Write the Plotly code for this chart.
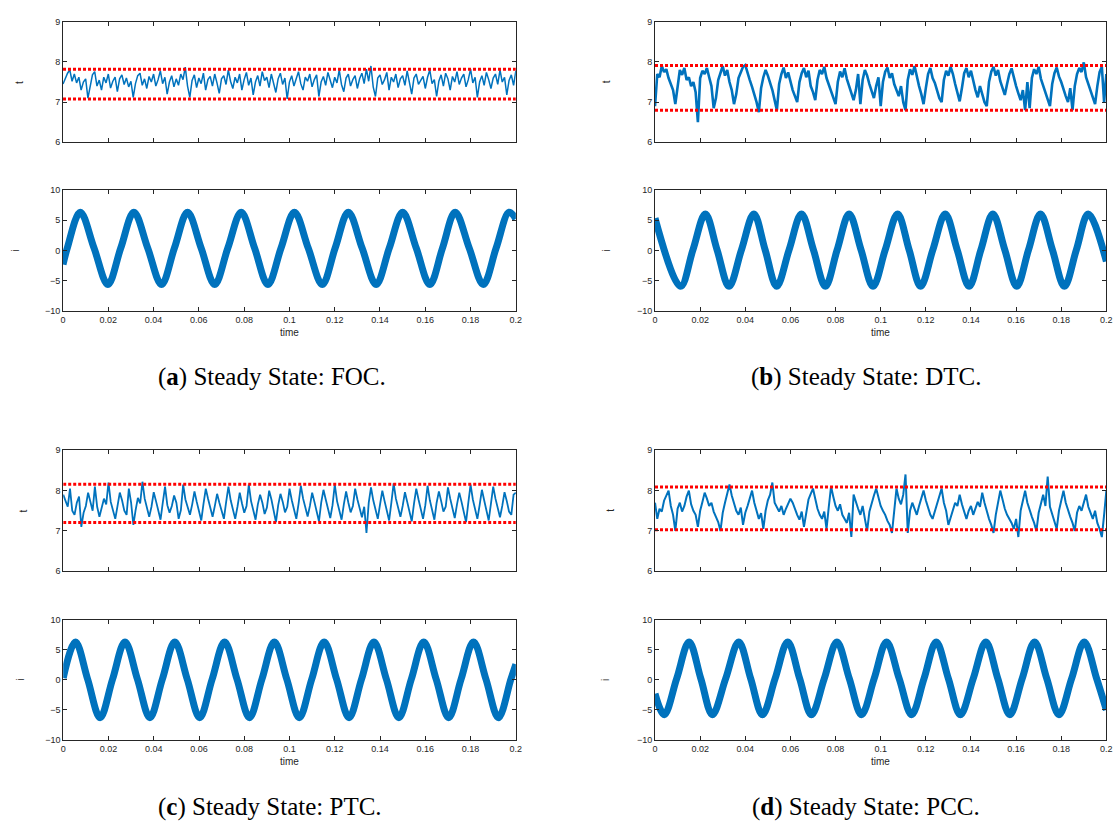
import plotly.graph_objects as go

W, H = 1120, 824

# ---------------- data ----------------
t_ms = [i / 1000 for i in range(201)]  # time axis of torque records (1 ms step)

torque_foc = [
    7.45, 7.58, 7.72, 7.80, 7.52, 7.70, 7.48, 7.62, 7.30, 7.50,
    7.58, 7.10, 7.42, 7.68, 7.76, 7.40, 7.55, 7.30, 7.62, 7.48,
    7.70, 7.35, 7.52, 7.62, 7.26, 7.58, 7.68, 7.44, 7.60, 7.38,
    7.52, 7.12, 7.46, 7.66, 7.72, 7.42, 7.58, 7.34, 7.64, 7.50,
    7.70, 7.40, 7.56, 7.78, 7.46, 7.62, 7.20, 7.50, 7.66, 7.38,
    7.58, 7.42, 7.70, 7.56, 7.87, 7.40, 7.12, 7.54, 7.68, 7.36,
    7.60, 7.46, 7.72, 7.30, 7.56, 7.64, 7.40, 7.70, 7.48, 7.22,
    7.58, 7.66, 7.44, 7.80, 7.52, 7.34, 7.62, 7.48, 7.70, 7.30,
    7.56, 7.74, 7.42, 7.60, 7.18, 7.50, 7.66, 7.40, 7.76, 7.54,
    7.62, 7.36, 7.70, 7.48, 7.24, 7.58, 7.72, 7.44, 7.60, 7.08,
    7.50, 7.66, 7.40, 7.58, 7.76, 7.46, 7.30, 7.62, 7.52, 7.70,
    7.38, 7.56, 7.68, 7.14, 7.50, 7.64, 7.42, 7.74, 7.56, 7.36,
    7.62, 7.48, 7.80, 7.44, 7.26, 7.60, 7.70, 7.40, 7.56, 7.66,
    7.34, 7.58, 7.72, 7.46, 7.82, 7.52, 7.90, 7.38, 7.14, 7.60,
    7.68, 7.44, 7.56, 7.74, 7.30, 7.62, 7.50, 7.70, 7.36, 7.58,
    7.66, 7.42, 7.78, 7.48, 7.20, 7.60, 7.70, 7.44, 7.56, 7.64,
    7.34, 7.62, 7.80, 7.46, 7.56, 7.14, 7.52, 7.68, 7.40, 7.72,
    7.58, 7.30, 7.64, 7.50, 7.76, 7.44, 7.60, 7.70, 7.38, 7.56,
    7.82, 7.48, 7.62, 7.12, 7.50, 7.66, 7.42, 7.74, 7.56, 7.34,
    7.60, 7.70, 7.44, 7.80, 7.50, 7.62, 7.18, 7.54, 7.68, 7.42,
    7.78,
]

torque_dtc = [
    6.90, 7.70, 7.62, 7.90, 7.75, 7.82, 7.60, 7.45, 7.30, 6.95,
    7.40, 7.80, 7.68, 7.85, 7.55, 7.62, 7.40, 7.50, 7.25, 6.50,
    7.60, 7.78, 7.70, 7.85, 7.62, 7.40, 6.85, 7.10, 7.55, 7.72,
    7.90, 7.66, 7.80, 7.50, 7.30, 6.95, 7.20, 7.60, 7.75, 7.88,
    7.92, 7.70, 7.55, 7.38, 7.20, 7.00, 6.75, 7.35, 7.62, 7.80,
    7.66, 7.50, 7.30, 7.05, 6.80, 7.45, 7.70, 7.86, 7.60, 7.74,
    7.48, 7.30, 7.15, 7.00, 7.50, 7.72, 7.85, 7.62, 7.78, 7.40,
    7.25, 7.05, 7.55, 7.80, 7.70, 7.88, 7.60, 7.45, 7.30, 7.10,
    6.95, 7.50, 7.76, 7.62, 7.84, 7.58, 7.40, 7.20, 7.05, 7.30,
    7.70, 6.95, 7.55, 7.80, 7.66, 7.45, 7.28, 7.10, 7.40, 7.62,
    6.90, 7.50, 7.76, 7.86, 7.60, 7.72, 7.45, 7.30, 7.15, 7.40,
    7.00, 6.80, 7.55, 7.82, 7.68, 7.90, 7.62, 7.40, 7.20, 6.95,
    7.35, 7.70, 7.85, 7.60, 7.48, 7.30, 7.10, 7.00, 7.55, 7.78,
    7.66, 7.88, 7.70, 7.45, 7.25, 7.02, 7.35, 7.72, 7.85, 7.62,
    7.78, 7.50, 7.30, 7.12, 7.40, 7.20, 7.00, 6.90, 7.50, 7.76,
    7.88, 7.66, 7.80, 7.52, 7.35, 7.18, 7.45, 7.70, 7.84, 7.60,
    7.40, 7.22, 7.05, 7.30, 6.80, 7.50, 6.85, 7.60, 7.82, 7.70,
    7.88, 7.58, 7.40, 7.20, 7.05, 6.90, 7.45, 7.72, 7.86, 7.64,
    7.50, 7.30, 7.15, 7.00, 7.35, 6.80, 7.40, 7.70, 7.85, 7.75,
    7.99, 7.62, 7.45, 7.30, 7.10, 6.95, 7.40, 7.75, 7.88, 7.00,
    7.70,
]

torque_ptc = [
    7.90, 7.72, 7.60, 8.05, 7.50, 7.40, 7.70, 7.85, 7.10, 7.45,
    7.62, 7.95, 7.70, 7.50, 8.10, 7.60, 7.35, 7.55, 7.80, 7.66,
    8.20, 7.72, 7.48, 7.30, 7.62, 7.95, 7.76, 7.50, 7.40, 8.05,
    7.70, 7.15, 7.52, 7.82, 7.68, 8.22, 7.80, 7.55, 7.35, 7.60,
    7.96, 7.74, 7.50, 7.28, 7.70, 8.10, 7.64, 7.45, 7.62, 7.88,
    7.70, 7.30, 7.52, 8.15, 7.78, 7.58, 7.40, 7.66, 7.98, 7.72,
    7.50, 7.26, 7.68, 8.05, 7.80, 7.55, 7.35, 7.62, 7.92, 7.70,
    7.48, 7.30, 7.72, 8.10, 7.76, 7.56, 7.30, 7.60, 7.95, 7.68,
    7.45, 7.62, 8.15, 7.74, 7.52, 7.28, 7.66, 7.90, 7.70, 7.42,
    7.58, 8.00, 7.78, 7.50, 7.22, 7.64, 7.92, 7.72, 7.46, 7.60,
    8.05, 7.76, 7.52, 7.30, 7.68, 8.12, 7.80, 7.55, 7.36, 7.62,
    7.95, 7.72, 7.48, 7.24, 7.70, 8.02, 7.78, 7.56, 7.32, 7.64,
    8.15, 7.74, 7.50, 7.28, 7.66, 7.98, 7.70, 7.46, 7.62, 8.05,
    7.78, 7.54, 7.34, 7.60, 6.95, 7.70, 8.08, 7.76, 7.50, 7.30,
    7.66, 8.00, 7.74, 7.48, 7.26, 7.70, 8.18, 7.80, 7.55, 7.35,
    7.62, 7.96, 7.72, 7.46, 7.24, 7.68, 8.05, 7.78, 7.52, 7.30,
    7.64, 8.12, 7.76, 7.50, 7.28, 7.70, 7.98, 7.74, 7.48, 7.60,
    8.08, 7.80, 7.54, 7.32, 7.66, 7.95, 7.72, 7.46, 7.22, 7.70,
    8.15, 7.78, 7.55, 7.30, 7.64, 8.02, 7.76, 7.50, 7.26, 7.68,
    8.10, 7.80, 7.56, 7.34, 7.62, 7.96, 7.74, 7.48, 7.40, 7.90,
    7.95,
]

torque_pcc = [
    7.70, 7.30, 7.55, 7.48, 7.75, 7.90, 8.00, 7.62, 7.40, 7.00,
    7.55, 7.70, 7.48, 7.62, 7.85, 8.00, 7.66, 7.50, 7.40, 7.10,
    7.50, 7.72, 7.95, 7.80, 7.62, 7.70, 7.48, 7.35, 7.22, 7.00,
    7.45, 7.70, 7.95, 8.15, 7.88, 7.66, 7.50, 7.40, 7.58, 7.15,
    7.45, 7.62, 7.80, 8.00, 7.70, 7.52, 7.30, 7.44, 7.05, 7.50,
    7.76, 7.90, 8.20, 7.70, 7.60, 7.48, 7.62, 7.40, 7.55, 7.66,
    7.80, 7.70, 7.52, 7.40, 7.28, 7.48, 7.10, 7.50, 7.78, 7.92,
    8.05, 7.80, 7.55, 7.40, 7.30, 7.48, 7.05, 7.60, 8.10, 7.85,
    7.62, 7.50, 7.66, 7.40, 7.30, 7.20, 7.45, 6.85, 7.90, 7.70,
    7.55, 7.40, 7.62, 7.30, 7.00, 7.48, 7.72, 7.88, 8.05, 7.80,
    7.62, 7.50, 7.40, 7.25, 7.15, 6.95, 7.60, 8.05, 7.80, 7.66,
    7.90, 8.40, 6.95, 7.50, 7.70, 7.55, 7.40, 7.62, 7.82, 8.00,
    7.76, 7.55, 7.40, 7.30, 7.50, 7.68, 7.85, 8.05, 7.70, 7.50,
    7.15, 7.35, 7.52, 7.70, 7.62, 7.90, 7.66, 7.45, 7.30, 7.50,
    7.62, 7.40, 7.55, 7.72, 7.60, 7.95, 7.70, 7.48, 7.30, 7.15,
    6.95, 7.40, 7.66, 8.00, 7.78, 7.55, 7.40, 7.30, 7.20, 7.05,
    7.30, 6.85, 7.50, 7.75, 8.00, 7.70, 7.50, 7.35, 7.20, 7.00,
    7.45, 7.70, 7.90, 7.62, 8.35, 7.60, 7.40, 7.25, 7.05, 7.50,
    7.75, 8.00, 7.70, 7.50, 7.35, 7.20, 7.00, 7.45, 7.62, 7.50,
    7.70, 7.90, 7.60, 7.45, 7.30, 7.50, 7.20, 7.05, 6.85, 7.40,
    8.00,
]

# torque band limits (red dotted lines)
band_foc = [7.08, 7.82]
band_dtc = [6.80, 7.91]
band_ptc = [7.21, 8.16]
band_pcc = [7.03, 8.09]

# current: read extrema and mid-level crossings
cur_foc_t = [0, 0.0019, 0.0076, 0.0137, 0.0198, 0.0255, 0.0313, 0.0374, 0.0435,
             0.0492, 0.055, 0.061, 0.067, 0.0728, 0.0787, 0.0846, 0.0905, 0.0963,
             0.1022, 0.1083, 0.1145, 0.1202, 0.126, 0.1321, 0.1383, 0.1441, 0.150,
             0.156, 0.162, 0.1676, 0.1732, 0.1794, 0.1856, 0.1913, 0.197, 0.2]
cur_foc_v = [-2.3, 0.4, 6.3, 0.4, -5.6, 0.4, 6.3, 0.4, -5.6,
             0.4, 6.3, 0.4, -5.6, 0.4, 6.3, 0.4, -5.6, 0.4,
             6.3, 0.4, -5.6, 0.4, 6.3, 0.4, -5.6, 0.4, 6.3,
             0.4, -5.6, 0.4, 6.3, 0.4, -5.6, 0.4, 6.3, 5.2]

cur_dtc_t = [0, 0.0113, 0.0168, 0.0223, 0.0275, 0.0328, 0.0383, 0.0438, 0.0488,
             0.0539, 0.0594, 0.0649, 0.0702, 0.0755, 0.0807, 0.086, 0.0913, 0.0966,
             0.102, 0.1075, 0.1126, 0.1177, 0.1231, 0.1286, 0.1339, 0.1392, 0.1444,
             0.1497, 0.155, 0.1603, 0.1655, 0.1708, 0.1761, 0.1814, 0.1867, 0.192, 0.2]
cur_dtc_v = [5.3, -5.9, 0.1, 6.0, 0.1, -5.9, 0.1, 6.0, 0.1,
             -5.9, 0.1, 6.0, 0.1, -5.9, 0.1, 6.0, 0.1, -5.9,
             0.1, 6.0, 0.1, -5.9, 0.1, 6.0, 0.1, -5.9, 0.1,
             6.0, 0.1, -5.9, 0.1, 6.0, 0.1, -5.9, 0.1, 6.0, -1.8]

cur_ptc_t = [0, 0.0054, 0.0108, 0.0163, 0.0218, 0.0273, 0.0328, 0.0383, 0.0438,
             0.0493, 0.0548, 0.0603, 0.0658, 0.0713, 0.0768, 0.0823, 0.0878, 0.0933,
             0.0988, 0.1043, 0.1098, 0.1153, 0.1208, 0.1263, 0.1318, 0.1373, 0.1428,
             0.1483, 0.1538, 0.1593, 0.1648, 0.1703, 0.1758, 0.1813, 0.1868, 0.1923,
             0.1978, 0.2]
cur_ptc_v = [0.3, 6.3, 0.1, -6.3, 0.1, 6.3, 0.1, -6.3, 0.1,
             6.3, 0.1, -6.3, 0.1, 6.3, 0.1, -6.3, 0.1, 6.3,
             0.1, -6.3, 0.1, 6.3, 0.1, -6.3, 0.1, 6.3, 0.1,
             -6.3, 0.1, 6.3, 0.1, -6.3, 0.1, 6.3, 0.1, -6.3,
             0.1, 2.6]

cur_pcc_t = [0, 0.0041, 0.0096, 0.0151, 0.0203, 0.0254, 0.0313, 0.0371, 0.0424,
             0.0476, 0.0532, 0.0588, 0.0641, 0.0693, 0.075, 0.0806, 0.0861, 0.0915,
             0.0971, 0.1026, 0.1082, 0.1137, 0.1192, 0.1246, 0.13, 0.1353, 0.141,
             0.1466, 0.1519, 0.1572, 0.1627, 0.1682, 0.1736, 0.179, 0.1846, 0.1902,
             0.1957, 0.2]
cur_pcc_v = [-2.3, -5.8, 0.2, 6.3, 0.2, -5.8, 0.2, 6.3, 0.2,
             -5.8, 0.2, 6.3, 0.2, -5.8, 0.2, 6.3, 0.2, -5.8,
             0.2, 6.3, 0.2, -5.8, 0.2, 6.3, 0.2, -5.8, 0.2,
             6.3, 0.2, -5.8, 0.2, 6.3, 0.2, -5.8, 0.2, 6.3,
             0.2, -5.0]

x_ticks = [0, 0.02, 0.04, 0.06, 0.08, 0.1, 0.12, 0.14, 0.16, 0.18, 0.2]
x_tick_text = ["0", "0.02", "0.04", "0.06", "0.08", "0.1", "0.12", "0.14", "0.16", "0.18", "0.2"]
t_ticks = [6, 7, 8, 9]
i_ticks = [-10, -5, 0, 5, 10]

captions = [
    "(<b>a</b>) Steady State: FOC.",
    "(<b>b</b>) Steady State: DTC.",
    "(<b>c</b>) Steady State: PTC.",
    "(<b>d</b>) Steady State: PCC.",
]

# ---------------- layout geometry (pixels) ----------------
panels = [
    # (x0, x1, top_y0, top_y1, bot_y0, bot_y1)
    (60.5, 517, 17, 139, 187, 310),
    (657.3, 1112.3, 17, 139, 187, 310),
    (60.7, 517, 450.7, 573.3, 622.3, 744),
    (657.3, 1112.3, 450.7, 573.3, 622.3, 744),
]
caption_pos = [(271, 377), (870, 377), (269, 812), (870, 812)]
t_label_x = [16, 608, 21, 613]
i_label_x = [13, 608, 18, 608]

BLUE = "#0072BD"
AX = "#262626"

torques = [torque_foc, torque_dtc, torque_ptc, torque_pcc]
bands = [band_foc, band_dtc, band_ptc, band_pcc]
cur_t = [cur_foc_t, cur_dtc_t, cur_ptc_t, cur_pcc_t]
cur_v = [cur_foc_v, cur_dtc_v, cur_ptc_v, cur_pcc_v]
tq_width = [1.5, 2.6, 1.8, 2.0]

fig = go.Figure()
layout = {}
annotations = []

def px_x(p):
    return p / W

def px_y(p):
    return 1 - p / H

def ann(text, x, y, size, family, color=AX, angle=0):
    return dict(text=text, x=px_x(x), y=px_y(y), xref="paper", yref="paper",
                xanchor="center", yanchor="middle", showarrow=False, textangle=angle,
                font=dict(family=family, size=size, color=color))

for k in range(4):
    x0, x1, ty0, ty1, by0, by1 = panels[k]
    ia = 2 * k + 1   # top axis index
    ib = 2 * k + 2   # bottom axis index
    for idx, (y0, y1), show_x in ((ia, (ty0, ty1), False), (ib, (by0, by1), True)):
        xname = "xaxis" if idx == 1 else f"xaxis{idx}"
        yname = "yaxis" if idx == 1 else f"yaxis{idx}"
        xref = "x" if idx == 1 else f"x{idx}"
        yref = "y" if idx == 1 else f"y{idx}"
        layout[xname] = dict(
            domain=[px_x(x0), px_x(x1)], anchor=yref, range=[0, 0.2],
            tickvals=x_ticks, ticktext=x_tick_text, showticklabels=show_x,
            ticks="inside", ticklen=4, tickwidth=1, tickcolor=AX,
            showline=True, linecolor=AX, linewidth=1, mirror="ticks",
            showgrid=False, zeroline=False,
            tickfont=dict(family="Liberation Sans", size=9, color=AX),
        )
        top = idx == ia
        layout[yname] = dict(
            domain=[px_y(y1), px_y(y0)], anchor=xref,
            range=[6, 9] if top else [-10, 10],
            tickvals=t_ticks if top else i_ticks,
            ticks="inside", ticklen=4, tickwidth=1, tickcolor=AX,
            showline=True, linecolor=AX, linewidth=1, mirror="ticks",
            showgrid=False, zeroline=False,
            tickfont=dict(family="Liberation Sans", size=9, color=AX),
        )
    xa = "x" if ia == 1 else f"x{ia}"
    ya = "y" if ia == 1 else f"y{ia}"
    xb = f"x{ib}"
    yb = f"y{ib}"
    fig.add_trace(go.Scatter(x=t_ms, y=torques[k], mode="lines", xaxis=xa, yaxis=ya,
                             line=dict(color=BLUE, width=tq_width[k]), showlegend=False))
    for b in bands[k]:
        fig.add_trace(go.Scatter(x=[0, 0.2], y=[b, b], mode="lines", xaxis=xa, yaxis=ya,
                                 line=dict(color="#FF0000", width=3, dash="3px,2px"),
                                 showlegend=False))
    fig.add_trace(go.Scatter(x=cur_t[k], y=cur_v[k], mode="lines", xaxis=xb, yaxis=yb,
                             line=dict(color=BLUE, width=7, shape="spline", smoothing=1.0),
                             showlegend=False))
    annotations.append(ann("t", t_label_x[k], (ty0 + ty1) / 2, 10, "Liberation Sans", angle=-90))
    annotations.append(ann("i", i_label_x[k], (by0 + by1) / 2, 10, "Liberation Sans", angle=-90))
    annotations.append(ann("time", (x0 + x1) / 2, by1 + 22, 10, "Liberation Sans"))
    cx, cy = caption_pos[k]
    annotations.append(ann(captions[k], cx, cy, 25, "Liberation Serif", color="black"))

fig.update_layout(
    width=W, height=H, margin=dict(l=0, r=0, t=0, b=0),
    paper_bgcolor="white", plot_bgcolor="white",
    annotations=annotations, **layout,
)

fig.write_html("out.html")
